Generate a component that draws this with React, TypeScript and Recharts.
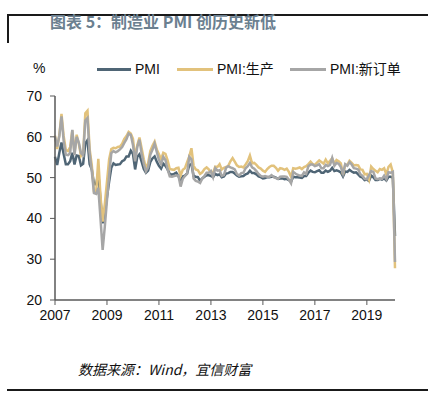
import React from 'react';
import { LineChart, Line, XAxis, YAxis, Legend } from 'recharts';

const years = ['2007','2008','2009','2010','2011','2012','2013','2014','2015','2016','2017','2018','2019','2020'];
const tickYears = ['2007','2009','2011','2013','2015','2017','2019'];
const yTicks = [20, 30, 40, 50, 60, 70];

const pmi = [
  55.1, 53.1, 56.1, 58.6, 55.8, 53.3, 53.3, 54.0, 56.1, 53.2, 55.4, 55.3,
  53.0, 53.4, 58.4, 59.2, 53.3, 52.0, 48.4, 48.4, 51.2, 44.6, 38.8, 41.2,
  45.3, 49.0, 52.4, 53.5, 53.1, 53.2, 53.3, 54.0, 54.3, 55.2, 55.2, 56.6,
  55.8, 52.0, 55.1, 55.7, 53.9, 52.1, 51.2, 51.7, 53.8, 54.7, 55.2, 53.9,
  52.9, 52.2, 53.4, 52.9, 52.0, 50.9, 50.7, 50.9, 51.2, 50.4, 49.0, 50.3,
  50.5, 51.0, 53.1, 53.3, 50.4, 50.2, 50.1, 49.2, 49.8, 50.2, 50.6, 50.6,
  50.4, 50.1, 50.9, 50.6, 50.8, 50.1, 50.3, 51.0, 51.1, 51.4, 51.4, 51.0,
  50.5, 50.2, 50.3, 50.4, 50.8, 51.0, 51.7, 51.1, 51.1, 50.8, 50.3, 50.1,
  49.8, 49.9, 50.1, 50.1, 50.2, 50.2, 50.0, 49.7, 49.8, 49.8, 49.6, 49.7,
  49.4, 49.0, 50.2, 50.1, 50.1, 50.0, 49.9, 50.4, 50.4, 51.2, 51.7, 51.4,
  51.3, 51.6, 51.8, 51.2, 51.2, 51.7, 51.4, 51.7, 52.4, 51.6, 51.8, 51.6,
  51.3, 50.3, 51.5, 51.4, 51.9, 51.5, 51.2, 51.3, 50.8, 50.2, 50.0, 49.4,
  49.5, 49.2, 50.5, 50.1, 49.4, 49.4, 49.7, 49.5, 49.8, 49.3, 50.2, 50.2,
  50.0, 35.7,
];

const production = [
  60.3, 57.0, 60.5, 65.6, 60.2, 56.8, 56.5, 57.5, 61.6, 56.0, 60.5, 58.3,
  55.3, 56.0, 65.8, 66.4, 57.0, 53.0, 46.5, 46.3, 54.6, 45.5, 39.2, 43.5,
  49.0, 54.5, 57.0, 57.3, 57.2, 57.5, 57.6, 58.3, 59.5, 60.2, 61.2, 60.8,
  59.5, 54.8, 58.0, 59.8, 57.2, 54.5, 52.3, 53.5, 56.5, 57.8, 58.8, 56.9,
  55.7, 54.5, 56.1, 55.8, 54.2, 52.1, 52.0, 51.9, 52.3, 52.4, 50.5, 51.9,
  52.3, 53.8, 55.2, 57.2, 52.9, 52.0, 51.8, 50.9, 51.3, 52.1, 52.5, 52.0,
  51.3, 51.2, 52.7, 52.6, 53.3, 52.0, 52.4, 52.6, 52.9, 54.0, 54.8, 53.9,
  53.0, 52.6, 52.7, 52.5, 53.2, 54.0, 55.4, 53.5, 53.6, 53.1, 52.5, 52.2,
  51.7, 51.4, 52.1, 52.6, 52.9, 52.9, 52.4, 51.7, 52.3, 52.2, 51.9, 52.2,
  51.4, 50.2, 52.3, 52.2, 52.3, 52.5, 52.1, 52.6, 52.8, 53.3, 53.9, 53.3,
  53.1, 53.7, 54.2, 53.8, 53.4, 54.4, 53.5, 54.1, 54.7, 53.4, 54.3, 54.0,
  53.5, 50.7, 53.1, 53.1, 54.1, 53.6, 53.0, 53.1, 53.0, 52.0, 51.9, 50.8,
  50.9, 49.5, 52.7, 52.1, 51.7, 51.3, 52.1, 51.9, 52.3, 50.8, 52.6, 53.2,
  51.3, 27.8,
];

const newOrders = [
  60.0, 57.6, 60.2, 65.0, 59.0, 55.6, 55.5, 56.0, 61.7, 55.5, 60.0, 58.6,
  56.0, 55.5, 64.0, 64.6, 56.0, 51.5, 46.2, 46.0, 47.5, 40.0, 32.3, 38.0,
  44.5, 50.5, 56.0, 56.5, 56.2, 56.5, 56.9, 57.5, 58.5, 59.4, 60.8, 60.5,
  58.0, 54.0, 57.5, 59.3, 55.9, 53.4, 51.5, 52.5, 55.6, 56.8, 58.3, 56.3,
  54.3, 53.3, 55.1, 54.3, 52.0, 50.3, 50.2, 50.4, 50.5, 50.5, 47.8, 49.7,
  50.4, 51.0, 55.1, 54.5, 49.8, 49.2, 49.0, 48.7, 49.8, 50.4, 51.2, 51.2,
  51.6, 50.1, 52.3, 51.7, 51.8, 50.4, 50.6, 52.4, 52.8, 52.5, 52.3, 52.0,
  50.9, 50.5, 51.1, 51.2, 52.3, 52.8, 53.6, 52.5, 52.2, 51.6, 50.9, 50.4,
  50.2, 50.4, 50.2, 50.2, 50.6, 50.1, 49.9, 49.7, 50.2, 50.3, 50.3, 50.2,
  49.5, 48.6, 51.4, 51.0, 50.7, 50.5, 50.4, 51.3, 50.9, 52.8, 53.2, 53.2,
  52.8, 53.0, 53.3, 52.3, 52.3, 53.1, 52.8, 53.1, 54.8, 52.9, 53.6, 53.4,
  52.6, 51.0, 53.3, 52.9, 53.8, 53.2, 52.3, 52.2, 52.0, 50.8, 50.4, 49.7,
  49.6, 50.6, 51.6, 51.4, 49.8, 49.6, 49.8, 49.7, 50.5, 49.6, 51.3, 51.2,
  51.4, 29.3,
];

const seriesNames = ['PMI', 'PMI:生产', 'PMI:新订单'];
const seriesColors = ['#4f6575', '#e2c27c', '#a6a6a6'];

const data = pmi.map((v, i) => {
  const y = years[Math.floor(i / 12)];
  const m = String((i % 12) + 1).padStart(2, '0');
  return { month: `${y}-${m}`, pmi: v, production: production[i], newOrders: newOrders[i] };
});

const xTicks = tickYears.map((y) => `${y}-01`);

const font = '"Liberation Sans", Arial, "Noto Sans CJK SC", sans-serif';

const LegendContent = () => (
  <div style={{ position: 'relative', width: 428, height: 20, fontFamily: font, fontSize: 14, color: '#111' }}>
    {[
      { x: 97, w: 34, tx: 135 },
      { x: 177, w: 36, tx: 217 },
      { x: 290, w: 36, tx: 330 },
    ].map((p, i) => (
      <React.Fragment key={i}>
        <div style={{ position: 'absolute', left: p.x, top: 9, width: p.w, height: 3, background: seriesColors[i] }} />
        <div style={{ position: 'absolute', left: p.tx, top: 1, whiteSpace: 'nowrap', lineHeight: '18px' }}>{seriesNames[i]}</div>
      </React.Fragment>
    ))}
  </div>
);

export default function App() {
  return (
    <div style={{ position: 'absolute', left: 0, top: 0, width: 428, height: 398, background: '#fff', fontFamily: font }}>
      <div style={{ position: 'absolute', left: 7, top: 14, width: 421, height: 2, background: '#1a1a1a' }} />
      <div style={{ position: 'absolute', left: 7, top: 14, width: 2, height: 29, background: '#1a1a1a' }} />
      <div style={{ position: 'absolute', left: 50, top: 11, fontSize: 16, fontWeight: 'bold', color: '#6b8090', fontFamily: '"Noto Sans CJK SC", sans-serif', whiteSpace: 'nowrap', lineHeight: '20px' }}>
        图表 5：制造业 PMI 创历史新低
      </div>
      <div style={{ position: 'absolute', left: 33, top: 60, fontSize: 14, color: '#111' }}>%</div>
      <div style={{ position: 'absolute', left: 0, top: 0 }}>
        <LineChart width={428} height={398} data={data} margin={{ top: 76, right: 33, bottom: 68, left: 10 }}>
          <XAxis
            dataKey="month"
            ticks={xTicks}
            interval={0}
            tickFormatter={(v: string) => v.slice(0, 4)}
            axisLine={{ stroke: '#595959', strokeWidth: 1.5 }}
            tickLine={{ stroke: '#595959' }}
            tickSize={5}
            tickMargin={5}
            height={30}
            tick={{ fill: '#111', fontSize: 14, fontFamily: font }}
          />
          <YAxis
            domain={[20, 70]}
            ticks={yTicks}
            interval={0}
            width={45}
            axisLine={{ stroke: '#595959', strokeWidth: 1.5 }}
            tickLine={{ stroke: '#595959' }}
            tickSize={5}
            tickMargin={8}
            tick={{ fill: '#111', fontSize: 14, fontFamily: font }}
          />
          <Legend verticalAlign="top" wrapperStyle={{ position: 'absolute', top: 59, left: 0, width: 428 }} content={LegendContent} />
          <Line type="linear" dataKey="pmi" name={seriesNames[0]} stroke={seriesColors[0]} strokeWidth={2.5} dot={false} isAnimationActive={false} />
          <Line type="linear" dataKey="production" name={seriesNames[1]} stroke={seriesColors[1]} strokeWidth={2.5} dot={false} isAnimationActive={false} />
          <Line type="linear" dataKey="newOrders" name={seriesNames[2]} stroke={seriesColors[2]} strokeWidth={2.5} dot={false} isAnimationActive={false} />
        </LineChart>
      </div>
      <div style={{ position: 'absolute', left: 78, top: 360, fontSize: 14, fontStyle: 'italic', color: '#111', fontFamily: '"Noto Sans CJK SC", "Liberation Sans", sans-serif', whiteSpace: 'nowrap', lineHeight: '18px' }}>
        数据来源：Wind，宜信财富
      </div>
      <div style={{ position: 'absolute', left: 7, top: 389, width: 421, height: 2, background: '#1a1a1a' }} />
    </div>
  );
}
